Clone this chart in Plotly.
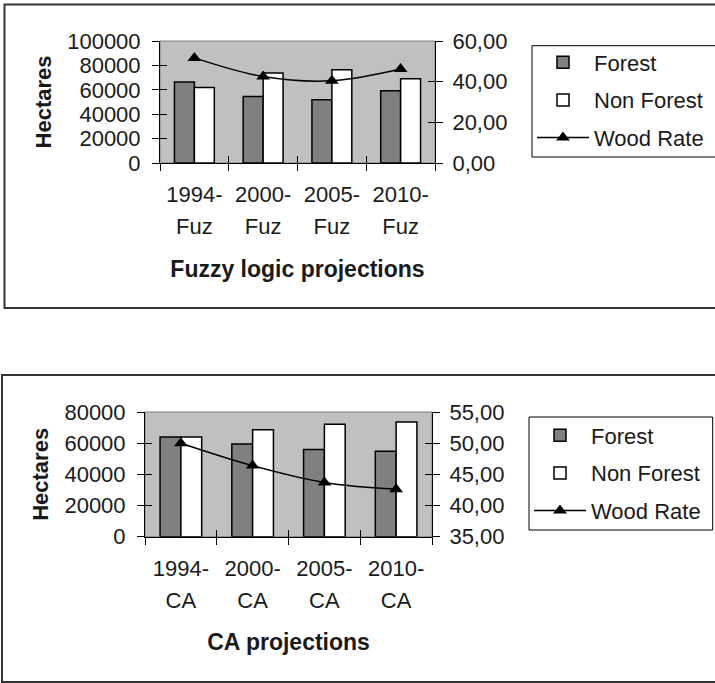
import plotly.graph_objects as go

W, H = 715, 683

# ---- data ----
periods = ["1994-", "2000-", "2005-", "2010-"]
series_names = ["Forest", "Non Forest", "Wood Rate"]

fuzzy_method = "Fuz"
fuzzy_title = "Fuzzy logic projections"
fuzzy_forest = [66300, 54500, 51800, 59200]
fuzzy_nonforest = [61900, 73700, 76400, 69000]
fuzzy_wood_rate = [51.7, 42.5, 40.4, 46.2]
fuzzy_area_ticks = [0, 20000, 40000, 60000, 80000, 100000]
fuzzy_rate_ticks = [0, 20, 40, 60]

ca_method = "CA"
ca_title = "CA projections"
ca_forest = [64000, 59400, 55900, 54800]
ca_nonforest = [64000, 68600, 72100, 73600]
ca_wood_rate = [50.0, 46.4, 43.7, 42.6]
ca_area_ticks = [0, 20000, 40000, 60000, 80000]
ca_rate_ticks = [35, 40, 45, 50, 55]

y_title = "Hectares"

FONT = "Liberation Sans, Arial, sans-serif"
TEXT_COLOR = "#1a1a1a"
TICK_FONT = dict(family=FONT, size=22, color=TEXT_COLOR)
Y_TITLE_FONT = dict(family=FONT, size=22, color=TEXT_COLOR, weight="bold")
X_TITLE_FONT = dict(family=FONT, size=23, color=TEXT_COLOR, weight="bold")


def fx(p):
    return p / W


def fy(p):
    return 1 - p / H


charts = [
    dict(forest=fuzzy_forest, nonforest=fuzzy_nonforest, rate=fuzzy_wood_rate,
         method=fuzzy_method, title=fuzzy_title,
         area_ticks=fuzzy_area_ticks, rate_ticks=fuzzy_rate_ticks,
         ax=dict(x="x", y="y", y2="y2", xi="x3", yi="y3", yi2="y4", xm="x5"),
         legend="legend",
         xdom=(160, 435), ydom=(41, 163),
         box=(4.5, 4.5, 308), legend_box=(532, 45.7, 757, 157), legend_top=41.5),
    dict(forest=ca_forest, nonforest=ca_nonforest, rate=ca_wood_rate,
         method=ca_method, title=ca_title,
         area_ticks=ca_area_ticks, rate_ticks=ca_rate_ticks,
         ax=dict(x="x2", y="y5", y2="y6", xi="x4", yi="y7", yi2="y8", xm="x6"),
         legend="legend2",
         xdom=(145, 432), ydom=(412, 536.7),
         box=(2, 375, 682), legend_box=(529, 417, 712.7, 530), legend_top=414.5),
]


def lname(ref):
    # "x3" -> "xaxis3", "y" -> "yaxis"
    return ref[0] + "axis" + ref[1:]


layout = dict(
    template="none",
    width=W, height=H,
    margin=dict(l=0, r=0, t=0, b=0, pad=0),
    paper_bgcolor="white",
    plot_bgcolor="#c0c0c0",
    separators=",.",
    bargap=0.42,
    bargroupgap=0,
    barmode="group",
    showlegend=True,
    shapes=[],
)

n = len(periods)
boundaries = [i - 0.5 for i in range(n + 1)]
centers = list(range(n))

fig = go.Figure()

for ci, c in enumerate(charts):
    a = c["ax"]
    lg = c["legend"]

    fig.add_traces([
        go.Bar(x=periods, y=c["forest"], name=series_names[0],
               marker=dict(color="#808080", line=dict(color="black", width=1.5)),
               xaxis=a["x"], yaxis=a["y"], legend=lg, legendgroup=f"f{ci}"),
        go.Bar(x=periods, y=c["nonforest"], name=series_names[1],
               marker=dict(color="white", line=dict(color="black", width=1.5)),
               xaxis=a["x"], yaxis=a["y"], legend=lg, legendgroup=f"n{ci}"),
        go.Scatter(x=periods, y=c["rate"], name=series_names[2], mode="lines+markers",
                   line=dict(color="black", width=1.5, shape="spline", smoothing=1),
                   marker=dict(symbol="triangle-up", size=12, color="black"),
                   xaxis=a["x"], yaxis=a["y2"], legend=lg, legendgroup=f"w{ci}"),
        # transparent copies that attach the helper axes (second label row,
        # inner tick halves) to the same data
        go.Scatter(x=centers, y=c["forest"], mode="markers", marker=dict(opacity=0),
                   xaxis=a["xm"], yaxis=a["yi"], showlegend=False, hoverinfo="skip"),
        go.Scatter(x=centers, y=c["rate"], mode="markers", marker=dict(opacity=0),
                   xaxis=a["xi"], yaxis=a["yi2"], showlegend=False, hoverinfo="skip"),
    ])

    xd = [fx(c["xdom"][0]), fx(c["xdom"][1])]
    yd = [fy(c["ydom"][1]), fy(c["ydom"][0])]
    ar = [c["area_ticks"][0], c["area_ticks"][-1]]
    rr = [c["rate_ticks"][0], c["rate_ticks"][-1]]

    common = dict(showgrid=False, zeroline=False, ticklen=7, tickcolor="black",
                  tickwidth=1, tickfont=TICK_FONT, automargin=False, fixedrange=True)

    # category axis: period labels, outer halves of boundary ticks
    layout[lname(a["x"])] = dict(
        common, domain=xd, anchor=a["y"], type="category",
        tickson="boundaries", ticks="outside", showline=True, linecolor="black",
        linewidth=1, ticklabelstandoff=12,
    )
    # second label row (projection method) plus the x-axis title
    layout[lname(a["xm"])] = dict(
        common, overlaying=a["x"], anchor=a["y"], side="bottom",
        range=[boundaries[0], boundaries[-1]],
        tickvals=centers, ticktext=[c["method"]] * n, ticks="", showline=False,
        ticklabelstandoff=48,
        title=dict(text=c["title"], font=X_TITLE_FONT, standoff=22),
    )
    layout[lname(a["y"])] = dict(
        common, domain=yd, anchor=a["x"], range=ar, tickvals=c["area_ticks"],
        tickformat="d", ticks="outside", showline=True, linecolor="black",
        linewidth=1, ticklabelstandoff=7,
        title=dict(text=y_title, font=Y_TITLE_FONT, standoff=9),
    )
    layout[lname(a["y2"])] = dict(
        common, overlaying=a["y"], side="right", anchor=a["x"], range=rr,
        tickvals=c["rate_ticks"], tickformat=".2f", ticks="outside",
        showline=True, linecolor="black", linewidth=1, ticklabelstandoff=5,
    )
    # inner halves of the crossing tick marks
    layout[lname(a["xi"])] = dict(
        common, overlaying=a["x"], anchor=a["y"], side="bottom",
        range=[boundaries[0], boundaries[-1]],
        tickvals=boundaries, ticks="inside", showticklabels=False, showline=False,
    )
    layout[lname(a["yi"])] = dict(
        common, overlaying=a["y"], anchor=a["x"], side="left", range=ar,
        tickvals=c["area_ticks"], ticks="inside", showticklabels=False, showline=False,
    )
    layout[lname(a["yi2"])] = dict(
        common, overlaying=a["y"], anchor=a["x"], side="right", range=rr,
        tickvals=c["rate_ticks"], ticks="inside", showticklabels=False, showline=False,
    )

    # plot-area frame
    layout["shapes"].append(dict(
        type="rect", xref=f"{a['x']} domain", yref=f"{a['y']} domain",
        x0=0, x1=1, y0=0, y1=1, line=dict(color="#808080", width=1), layer="below",
    ))
    # chart-area frame
    bx0, by0, by1 = c["box"]
    layout["shapes"].append(dict(
        type="rect", xref="paper", yref="paper",
        x0=fx(bx0), x1=1.05, y0=fy(by1), y1=fy(by0),
        line=dict(color="#333333", width=2), fillcolor="rgba(0,0,0,0)",
    ))
    # legend frame
    lx0, ly0, lx1, ly1 = c["legend_box"]
    layout["shapes"].append(dict(
        type="rect", xref="paper", yref="paper",
        x0=fx(lx0), x1=fx(lx1), y0=fy(ly1), y1=fy(ly0),
        line=dict(color="black", width=1), fillcolor="white", layer="below",
    ))

    layout[lg] = dict(
        x=fx(lx0), y=fy(c["legend_top"]), xanchor="left", yanchor="top",
        bgcolor="rgba(0,0,0,0)", borderwidth=0,
        font=dict(family=FONT, size=22, color=TEXT_COLOR),
        itemwidth=52, tracegroupgap=6, traceorder="grouped",
    )

fig.update_layout(**layout)
fig.write_html("out.html")
